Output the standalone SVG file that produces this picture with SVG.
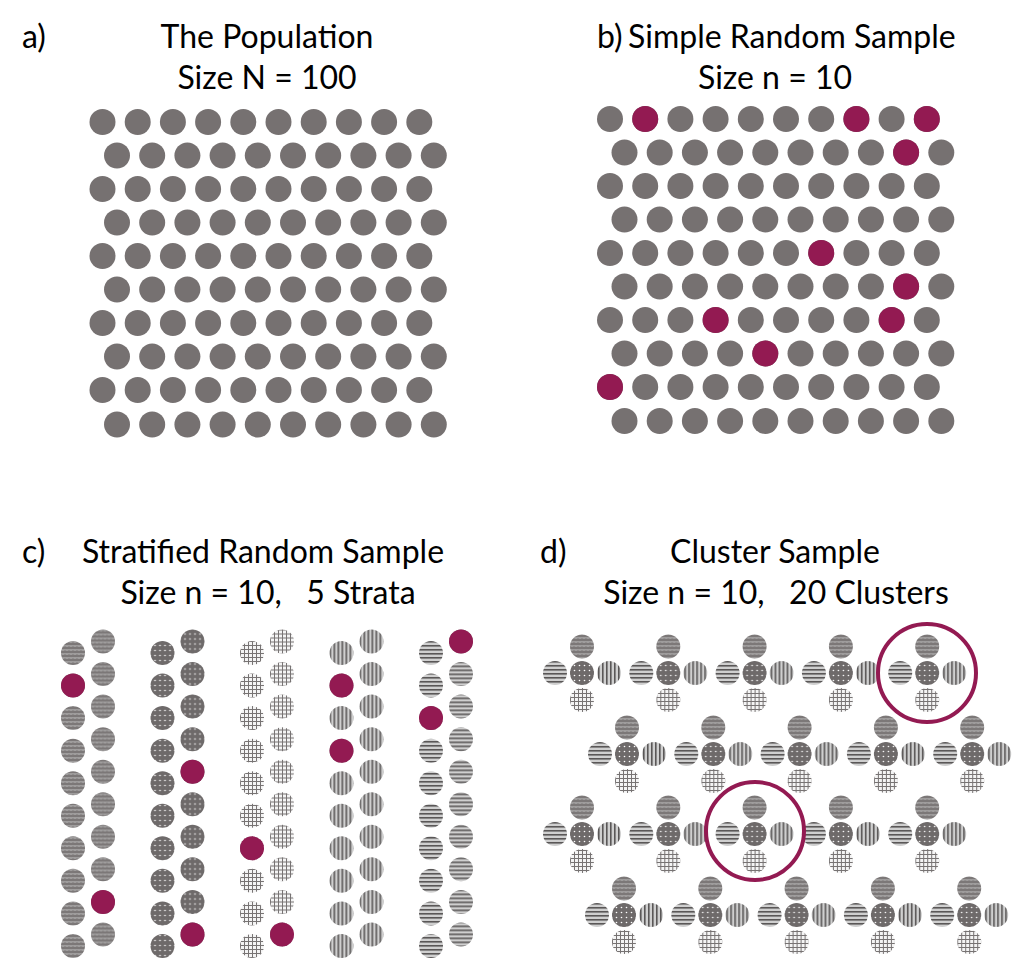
<svg xmlns="http://www.w3.org/2000/svg" xmlns:xlink="http://www.w3.org/1999/xlink" width="1012" height="960" viewBox="0 0 1012 960">
<style>
text{font-family:Lato,"Open Sans","Liberation Sans",sans-serif;font-size:32px;fill:#000;white-space:pre}
.m{text-anchor:middle}
.g{fill:#767171}
.p{fill:#931A52}
.ring{fill:none;stroke:#931A52;stroke-width:4}
</style>
<defs>
<pattern id="pz" width="4" height="4" patternUnits="userSpaceOnUse">
<rect width="4" height="4" fill="#7c7878"/>
<polyline points="0,1.5 1,0.5 2,1.5 3,0.5 4,1.5" fill="none" stroke="#d4d4d4" stroke-width="0.9"/>
</pattern>
<pattern id="pd" width="5" height="5" patternUnits="userSpaceOnUse">
<rect width="5" height="5" fill="#6e6a6a"/>
<circle cx="2.5" cy="2.5" r="0.8" fill="#ffffff"/>
</pattern>
<pattern id="pg" width="4" height="4" patternUnits="userSpaceOnUse">
<rect width="4" height="4" fill="#f4f4f4"/>
<path d="M0,0.5H4M0.5,0V4" stroke="#777373" stroke-width="1"/>
</pattern>
<pattern id="pv" width="4" height="4" patternUnits="userSpaceOnUse">
<rect width="4" height="4" fill="#cfcfcf"/>
<rect width="1.6" height="4" fill="#5a5757"/>
</pattern>
<pattern id="ph" width="4" height="4" patternUnits="userSpaceOnUse">
<rect width="4" height="4" fill="#cfcfcf"/>
<rect width="4" height="1.6" fill="#5a5757"/>
</pattern>
<g id="row">
<circle cx="0" cy="0" r="13"/><circle cx="35.2" cy="0" r="13"/><circle cx="70.4" cy="0" r="13"/><circle cx="105.6" cy="0" r="13"/><circle cx="140.8" cy="0" r="13"/><circle cx="176" cy="0" r="13"/><circle cx="211.2" cy="0" r="13"/><circle cx="246.4" cy="0" r="13"/><circle cx="281.6" cy="0" r="13"/><circle cx="316.8" cy="0" r="13"/>
</g>
<g id="col">
<circle cx="0" cy="0" r="12"/><circle cx="0" cy="32.55" r="12"/><circle cx="0" cy="65.1" r="12"/><circle cx="0" cy="97.65" r="12"/><circle cx="0" cy="130.2" r="12"/><circle cx="0" cy="162.75" r="12"/><circle cx="0" cy="195.3" r="12"/><circle cx="0" cy="227.85" r="12"/><circle cx="0" cy="260.4" r="12"/><circle cx="0" cy="292.95" r="12"/>
</g>
<g id="cl">
<circle cx="0" cy="-26.5" r="12" fill="url(#pz)"/>
<circle cx="-27" cy="0" r="12" fill="url(#ph)"/>
<circle cx="0" cy="0" r="12" fill="url(#pd)"/>
<circle cx="27" cy="0" r="12" fill="url(#pv)"/>
<circle cx="0" cy="27" r="12" fill="url(#pg)"/>
</g>
</defs>
<rect width="1012" height="960" fill="#ffffff"/>

<g id="titles">
<text x="22" y="48">a)</text>
<text class="m" x="267" y="48">The Population</text>
<text class="m" x="267" y="89">Size N = 100</text>
<text x="597" y="48">b)</text>
<text x="628" y="48">Simple Random Sample</text>
<text class="m" x="775" y="89">Size n = 10</text>
<text x="22" y="563">c)</text>
<text class="m" x="263" y="563">Stratified Random Sample</text>
<text class="m" x="268" y="604">Size n = 10,   5 Strata</text>
<text x="540" y="563">d)</text>
<text class="m" x="775" y="563">Cluster Sample</text>
<text class="m" x="776" y="604">Size n = 10,   20 Clusters</text>
</g>

<g id="panel-a" class="g">
<use href="#row" x="102.5" y="122"/>
<use href="#row" x="117" y="155.5"/>
<use href="#row" x="102.5" y="189"/>
<use href="#row" x="117" y="222.5"/>
<use href="#row" x="102.5" y="256"/>
<use href="#row" x="117" y="289.5"/>
<use href="#row" x="102.5" y="323"/>
<use href="#row" x="117" y="356.5"/>
<use href="#row" x="102.5" y="390"/>
<use href="#row" x="117" y="424.5"/>
</g>

<g id="panel-b">
<g class="g">
<use href="#row" x="610" y="119"/>
<use href="#row" x="624.5" y="152.5"/>
<use href="#row" x="610" y="186"/>
<use href="#row" x="624.5" y="219.5"/>
<use href="#row" x="610" y="253"/>
<use href="#row" x="624.5" y="286.5"/>
<use href="#row" x="610" y="320"/>
<use href="#row" x="624.5" y="353.5"/>
<use href="#row" x="610" y="387"/>
<use href="#row" x="624.5" y="421"/>
</g>
<g class="p">
<circle cx="645.2" cy="119" r="13"/>
<circle cx="856.4" cy="119" r="13"/>
<circle cx="926.8" cy="119" r="13"/>
<circle cx="906.1" cy="152.5" r="13"/>
<circle cx="821.2" cy="253" r="13"/>
<circle cx="906.1" cy="286.5" r="13"/>
<circle cx="715.6" cy="320" r="13"/>
<circle cx="891.6" cy="320" r="13"/>
<circle cx="765.3" cy="353.5" r="13"/>
<circle cx="610" cy="387" r="13"/>
</g>
</g>

<g id="panel-c">
<use href="#col" x="73" y="653" fill="url(#pz)"/>
<use href="#col" x="103" y="641.5" fill="url(#pz)"/>
<use href="#col" x="162.5" y="653" fill="url(#pd)"/>
<use href="#col" x="192.5" y="641.5" fill="url(#pd)"/>
<use href="#col" x="252" y="653" fill="url(#pg)"/>
<use href="#col" x="282" y="641.5" fill="url(#pg)"/>
<use href="#col" x="341.5" y="653" fill="url(#pv)"/>
<use href="#col" x="371.5" y="641.5" fill="url(#pv)"/>
<use href="#col" x="431" y="653" fill="url(#ph)"/>
<use href="#col" x="461" y="641.5" fill="url(#ph)"/>
<g class="p">
<circle cx="73" cy="685.55" r="12"/>
<circle cx="103" cy="901.9" r="12"/>
<circle cx="192.5" cy="771.7" r="12"/>
<circle cx="192.5" cy="934.45" r="12"/>
<circle cx="252" cy="848.3" r="12"/>
<circle cx="282" cy="934.45" r="12"/>
<circle cx="341.5" cy="685.55" r="12"/>
<circle cx="341.5" cy="750.65" r="12"/>
<circle cx="461" cy="641.5" r="12"/>
<circle cx="431" cy="718.1" r="12"/>
</g>
</g>

<g id="panel-d">
<use href="#cl" x="582" y="673"/>
<use href="#cl" x="668.3" y="673"/>
<use href="#cl" x="754.6" y="673"/>
<use href="#cl" x="840.9" y="673"/>
<use href="#cl" x="927.2" y="673"/>
<use href="#cl" x="627" y="754"/>
<use href="#cl" x="713.3" y="754"/>
<use href="#cl" x="799.6" y="754"/>
<use href="#cl" x="885.9" y="754"/>
<use href="#cl" x="972.2" y="754"/>
<use href="#cl" x="582" y="834"/>
<use href="#cl" x="668.3" y="834"/>
<use href="#cl" x="754.6" y="834"/>
<use href="#cl" x="840.9" y="834"/>
<use href="#cl" x="927.2" y="834"/>
<use href="#cl" x="624" y="915"/>
<use href="#cl" x="710.3" y="915"/>
<use href="#cl" x="796.6" y="915"/>
<use href="#cl" x="882.9" y="915"/>
<use href="#cl" x="969.2" y="915"/>
<circle class="ring" cx="927" cy="673" r="49"/>
<circle class="ring" cx="755" cy="831" r="49"/>
</g>
</svg>
